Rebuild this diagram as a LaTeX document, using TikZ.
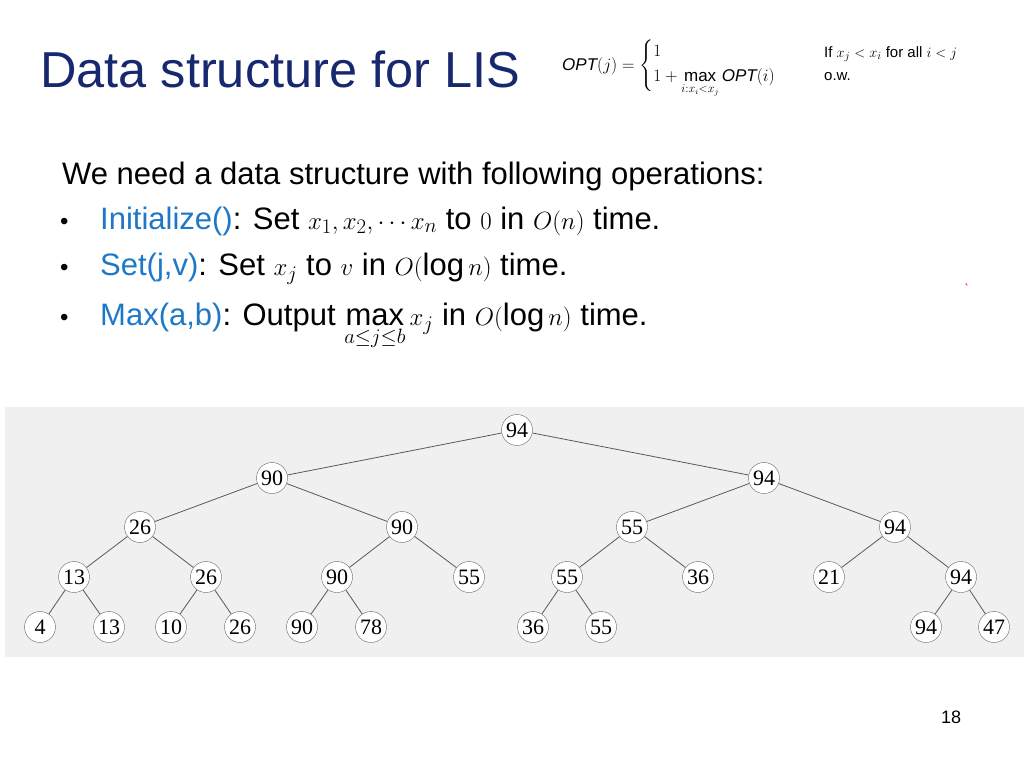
\documentclass[tikz,border=0pt]{standalone}
\usepackage{fontspec}
\usepackage{amsmath}
\setmainfont{Liberation Sans}
\newfontfamily\treefont{Liberation Serif}
\definecolor{titleblue}{RGB}{24,40,110}
\definecolor{itemblue}{RGB}{30,120,200}
\definecolor{panelgray}{RGB}{240,240,240}
\begin{document}
\begin{tikzpicture}[x=1pt,y=-1pt,
    vert/.style={circle,draw=black!60,fill=white,inner sep=0pt,minimum size=31pt,font=\treefont\fontsize{22}{22}\selectfont},
    link/.style={draw=black!65,line width=0.8pt},
    body/.style={anchor=base west,inner sep=0pt,font=\fontsize{31}{36}\selectfont}]

  \useasboundingbox (0,0) rectangle (1024,768);
  \fill[panelgray] (5,407) rectangle (1024,657);

  % heading and recurrence
  \node[anchor=base west,inner sep=0pt,text=titleblue,font=\fontsize{50.5}{54}\selectfont] (title) at (40,87) {Data structure for LIS};
  \node[anchor=west,inner sep=0pt,font=\fontsize{17}{19}\selectfont] (rec) at (562,66)
    {$\mathit{OPT}(j)=\begin{cases}1\\[2pt] 1+\max\limits_{i:x_i<x_j}\mathit{OPT}(i)\\[-6pt]\end{cases}$};
  \node[anchor=base west,inner sep=0pt,font=\fontsize{15}{17}\selectfont] (cond) at (824,57) {If $x_j<x_i$ for all $i<j$};
  \node[anchor=base west,inner sep=0pt,font=\fontsize{15}{17}\selectfont] (ow) at (824,81) {o.w.};

  % operations
  \node[body] (intro) at (62,184) {We need a data structure with following operations:};
  \foreach \n/\y in {1/229,2/275,3/325}
    \node[body,font=\fontsize{24}{28}\selectfont] (dot\n) at (60,\y) {\textbullet};
  \node[body] (op1) at (100,229) {\textcolor{itemblue}{Initialize()}: Set $x_1,x_2,\cdots x_n$ to $0$ in $O(n)$ time.};
  \node[body] (op2) at (100,275) {\textcolor{itemblue}{Set(j,v)}: Set $x_j$ to $v$ in $O(\log n)$ time.};
  \node[body] (op3) at (100,325) {\textcolor{itemblue}{Max(a,b)}: Output $\max\limits_{a\le j\le b}x_j$ in $O(\log n)$ time.};
  \node[text=red,font=\fontsize{14}{14}\selectfont,inner sep=0pt] (tick) at (967,290) {\`{}};

  % segment tree
  \begin{scope}[every node/.style={vert}]
    \node (r)    at (517,430) {94};
    \node (a)    at (272,478) {90};
    \node (b)    at (764,478) {94};
    \node (aa)   at (140,527) {26};
    \node (ab)   at (402,527) {90};
    \node (ba)   at (632,527) {55};
    \node (bb)   at (895,527) {94};
    \node (aaa)  at (74,577)  {13};
    \node (aab)  at (206,577) {26};
    \node (aba)  at (337,577) {90};
    \node (abb)  at (469,577) {55};
    \node (baa)  at (567,577) {55};
    \node (bab)  at (698,577) {36};
    \node (bba)  at (829,577) {21};
    \node (bbb)  at (961,577) {94};
    \node (aaaa) at (40,627)  {4};
    \node (aaab) at (109,627) {13};
    \node (aaba) at (171,627) {10};
    \node (aabb) at (240,627) {26};
    \node (abaa) at (302,627) {90};
    \node (abab) at (371,627) {78};
    \node (baaa) at (533,627) {36};
    \node (baab) at (601,627) {55};
    \node (bbba) at (926,627) {94};
    \node (bbbb) at (994,627) {47};
  \end{scope}

  \foreach \p/\c in {r/a,r/b,a/aa,a/ab,b/ba,b/bb,aa/aaa,aa/aab,ab/aba,ab/abb,
      ba/baa,ba/bab,bb/bba,bb/bbb,aaa/aaaa,aaa/aaab,aab/aaba,aab/aabb,
      aba/abaa,aba/abab,baa/baaa,baa/baab,bbb/bbba,bbb/bbbb}
    \draw[link] (\p) -- (\c);

  \node[font=\fontsize{18}{18}\selectfont] (page) at (951,717) {18};
\end{tikzpicture}
\end{document}
